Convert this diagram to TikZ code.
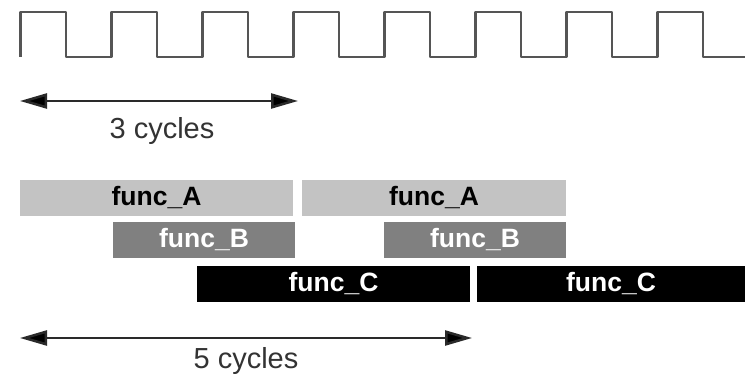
\documentclass[tikz,border=0pt]{standalone}
\usepackage{fontspec}
\setmainfont{Liberation Sans}
\usetikzlibrary{arrows.meta}
\definecolor{clk}{HTML}{555555}
\definecolor{barAcol}{HTML}{C3C3C3}
\definecolor{barBcol}{HTML}{808080}
\definecolor{arrcol}{HTML}{2A2A2A}
\definecolor{txtcol}{HTML}{333333}
\begin{document}
\begin{tikzpicture}[x=1pt,y=-1pt,
  bar/.style={rectangle, inner sep=0pt, minimum height=36pt, font=\fontsize{26.5}{28}\selectfont\bfseries},
  barA/.style={bar, fill=barAcol, text=black},
  barB/.style={bar, fill=barBcol, text=white},
  barC/.style={bar, fill=black, text=white},
  dimarrow/.style={draw=arrcol, line width=2.5pt, {Triangle[length=27pt,width=15pt,fill=black]}-{Triangle[length=27pt,width=15pt,fill=black]}},
  dimlabel/.style={font=\fontsize{29}{31}\selectfont, text=txtcol, inner sep=0pt},
  clock/.style={draw=clk, line width=2.6pt, line join=round}
]
\useasboundingbox (0,0) rectangle (745,377);
% clock
\draw[clock] (20.5,57)
  \foreach \k in {0,...,7} {
    -- ({20.5+91*\k},12) -- ({66+91*\k},12) -- ({66+91*\k},57) -- ({111.5+91*\k},57)
  } -- (745,57);
% 3 cycles
\coordinate (t3l) at (20,101);
\coordinate (t3r) at (298,101);
\draw[dimarrow] (t3l) -- (t3r);
\node[dimlabel] (l3) at (162,131) {3 cycles};
% bars
\node[barA, minimum width=273pt] (A1) at (156.5,198) {func\_A};
\node[barA, minimum width=264pt] (A2) at (434,198) {func\_A};
\node[barB, minimum width=182pt] (B1) at (204,240) {func\_B};
\node[barB, minimum width=182pt] (B2) at (475,240) {func\_B};
\node[barC, minimum width=273pt] (C1) at (333.5,283.5) {func\_C};
\node[barC, minimum width=268pt] (C2) at (611,283.5) {func\_C};
% 5 cycles
\coordinate (t5l) at (20,338);
\coordinate (t5r) at (472,338);
\draw[dimarrow] (t5l) -- (t5r);
\node[dimlabel] (l5) at (246,361) {5 cycles};
\end{tikzpicture}
\end{document}
